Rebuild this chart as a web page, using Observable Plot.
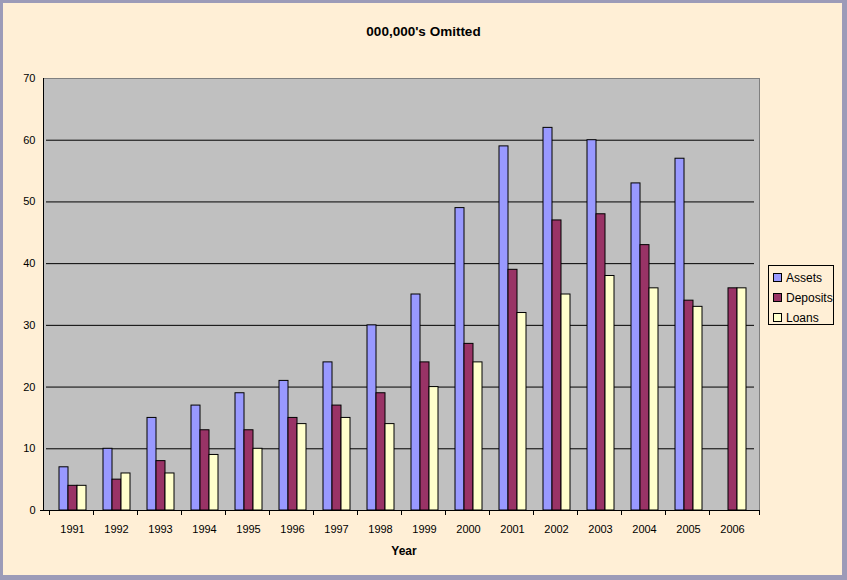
<!DOCTYPE html>
<html>
<head>
<meta charset="utf-8">
<script src="https://cdn.jsdelivr.net/npm/d3@7"></script>
<script src="https://cdn.jsdelivr.net/npm/@observablehq/plot@0.6"></script>
<style>
  html, body { margin: 0; padding: 0; background: #FFEFD6; }
  #wrap {
    position: relative; width: 847px; height: 580px; box-sizing: border-box;
    background: #FFEFD6; overflow: hidden;
    border-style: solid; border-color: #9C9BB8;
    border-width: 3px 5px 5px 3px;
    font-family: "Liberation Sans", Arial, sans-serif;
  }
  #chart { position: absolute; left: -3px; top: -3px; width: 847px; height: 580px; }
  #chart svg { max-width: none !important; }
  #title {
    position: absolute; left: -3px; width: 847px; top: 22px; text-align: center;
    font-weight: bold; font-size: 13.5px; line-height: 1; color: #000;
  }
  #xlabel {
    position: absolute; left: 341px; width: 120px; top: 542px; text-align: center;
    font-weight: bold; font-size: 12px; line-height: 1; color: #000;
  }
  #legend {
    position: absolute; left: 765px; top: 262px;
    border: 1px solid #000; overflow: hidden; font-size: 12px; color: #000;
    box-sizing: border-box; width: 66px; height: 60px;
  }
  .item { position: absolute; left: 4px; white-space: nowrap; line-height: 1; }
  .sw { display: inline-block; width: 7px; height: 7px; border: 1px solid #000; margin-right: 4px; vertical-align: 0px; }
</style>
</head>
<body>
<div id="wrap">
  <div id="title">000,000's Omitted</div>
  <div id="chart"></div>
  <div id="xlabel">Year</div>
  <div id="legend"></div>
</div>
<script>
const years = [1991,1992,1993,1994,1995,1996,1997,1998,1999,2000,2001,2002,2003,2004,2005,2006];
const assets   = [7,10,15,17,19,21,24,30,35,49,59,62,60,53,57,null];
const deposits = [4,5,8,13,13,15,17,19,24,27,39,47,48,43,34,36];
const loans    = [4,6,6,9,10,14,15,14,20,24,32,35,38,36,33,36];
const seriesNames = ["Assets","Deposits","Loans"];
const seriesColors = ["#9999FF","#993366","#FFFFCC"];
const yTicks = [0,10,20,30,40,50,60,70];

const seriesValues = [assets, deposits, loans];
const data = [];
years.forEach((yr, i) => {
  seriesNames.forEach((s, k) => {
    const v = seriesValues[k][i];
    if (v != null) data.push({year: yr, series: s, value: v});
  });
});

const plot = Plot.plot({
  width: 847,
  height: 580,
  marginLeft: 44,
  marginRight: 87,
  marginTop: 78,
  marginBottom: 70,
  style: {background: "transparent", fontFamily: "Liberation Sans, Arial, sans-serif", fontSize: "11px", color: "#000", overflow: "visible", maxWidth: "none"},
  fx: {domain: years, paddingInner: 0, paddingOuter: 0, label: null, axis: null},
  x: {domain: seriesNames, paddingInner: 0, paddingOuter: 0.75, axis: null},
  y: {domain: [0, 70], label: null},
  color: {domain: seriesNames, range: seriesColors},
  marks: [
    Plot.gridY(yTicks.filter(t => t > 0 && t < 70), {stroke: "#000", strokeOpacity: 1, strokeWidth: 1}),
    Plot.barY(data, {fx: "year", x: "series", y: "value", fill: "series", stroke: "#000", strokeWidth: 1}),
    Plot.axisY(yTicks, {tickSize: 4, tickPadding: 11, label: null, fontSize: 11}),
    Plot.axisFx({anchor: "bottom", tickSize: 0, tickPadding: 15, label: null, fontSize: 11, tickFormat: d => String(d)})
  ]
});

document.getElementById("chart").appendChild(plot);

// Plot-area background, frame and band-edge ticks from Plot's own scales
const svg = d3.select(plot);
const fx = plot.scale("fx");
const y = plot.scale("y");
const [fx0, fx1] = fx.range;
const yb = y.apply(0), yt = y.apply(70);
svg.insert("rect", ":first-child")
  .attr("x", fx0).attr("y", yt).attr("width", fx1 - fx0).attr("height", yb - yt)
  .attr("fill", "#C0C0C0");
const g = svg.append("g").attr("shape-rendering", "crispEdges");
g.append("line").attr("x1", fx0).attr("x2", fx1).attr("y1", yt + 0.5).attr("y2", yt + 0.5).attr("stroke", "#808080");
g.append("line").attr("x1", fx1 - 0.5).attr("x2", fx1 - 0.5).attr("y1", yt).attr("y2", yb).attr("stroke", "#808080");
g.append("line").attr("x1", fx0 - 0.5).attr("x2", fx0 - 0.5).attr("y1", yt).attr("y2", yb + 0.5).attr("stroke", "#000");
g.append("line").attr("x1", fx0 - 4).attr("x2", fx1).attr("y1", yb + 0.5).attr("y2", yb + 0.5).attr("stroke", "#000");
const edges = years.map(yr => fx.apply(yr)).concat([fx1]);
g.selectAll("line.tk").data(edges).join("line")
  .attr("class", "tk")
  .attr("x1", d => Math.round(d) - 0.5).attr("x2", d => Math.round(d) - 0.5)
  .attr("y1", yb).attr("y2", yb + 5).attr("stroke", "#000");

// Legend
const legend = d3.select("#legend");
seriesNames.forEach((s, k) => {
  const it = legend.append("div").attr("class", "item").style("top", (6 + k * 20) + "px");
  it.append("span").attr("class", "sw").style("background", seriesColors[k]);
  it.append("span").text(s);
});
</script>
</body>
</html>
